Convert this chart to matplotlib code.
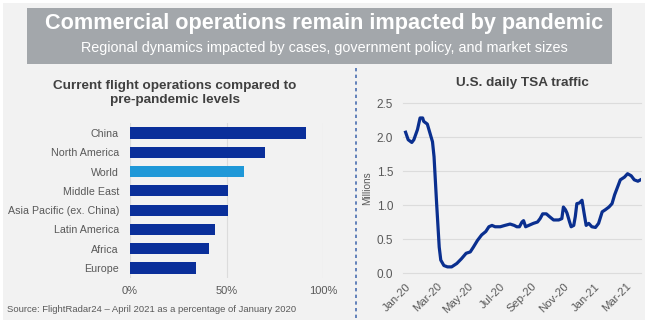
import matplotlib.pyplot as plt
import matplotlib.dates as mdates
import matplotlib.patches as patches
import pandas as pd

plt.rcParams['font.family'] = ['Liberation Sans', 'DejaVu Sans']

## Data - bar chart (share of Jan 2020 flights, in %)
regions = ['China', 'North America', 'World', 'Middle East', 'Asia Pacific (ex. China)',
           'Latin America', 'Africa', 'Europe']
flight_pct = [91, 70, 59, 51, 51, 44, 41, 34]

## Data - TSA daily traffic (millions)
tsa_dates = ['2020-01-01', '2020-01-06', '2020-01-13', '2020-01-17', '2020-01-24', '2020-01-29',
             '2020-02-03', '2020-02-05', '2020-02-12', '2020-02-17', '2020-02-22', '2020-02-25',
             '2020-03-01', '2020-03-06', '2020-03-09', '2020-03-15', '2020-03-22', '2020-03-30',
             '2020-04-09', '2020-04-18', '2020-04-27', '2020-05-05', '2020-05-11', '2020-05-19',
             '2020-05-27', '2020-06-04', '2020-06-10', '2020-06-16', '2020-06-22', '2020-07-02',
             '2020-07-11', '2020-07-21', '2020-07-29', '2020-08-03', '2020-08-08', '2020-08-13',
             '2020-08-16', '2020-08-20', '2020-08-26', '2020-09-04', '2020-09-12', '2020-09-17',
             '2020-09-22', '2020-09-29', '2020-10-05', '2020-10-13', '2020-10-23', '2020-10-29',
             '2020-11-01', '2020-11-05', '2020-11-08', '2020-11-13', '2020-11-16', '2020-11-21',
             '2020-11-24', '2020-11-27', '2020-12-02', '2020-12-07', '2020-12-11', '2020-12-15',
             '2020-12-20', '2020-12-26', '2021-01-02', '2021-01-08', '2021-01-15', '2021-01-21',
             '2021-01-28', '2021-02-03', '2021-02-08', '2021-02-13', '2021-02-19', '2021-02-27',
             '2021-03-05', '2021-03-12', '2021-03-18', '2021-03-25', '2021-03-30']
tsa_millions = [2.07, 1.96, 1.92, 1.96, 2.11, 2.28,
                2.28, 2.23, 2.19, 2.06, 1.93, 1.71,
                1.02, 0.38, 0.19, 0.11, 0.09, 0.09,
                0.14, 0.21, 0.29, 0.31, 0.38, 0.48,
                0.56, 0.61, 0.68, 0.70, 0.68, 0.68,
                0.70, 0.72, 0.70, 0.68, 0.68, 0.75,
                0.77, 0.68, 0.70, 0.73, 0.75, 0.80,
                0.87, 0.87, 0.83, 0.78, 0.78, 0.80,
                0.97, 0.93, 0.88, 0.75, 0.68, 0.70,
                0.83, 1.02, 1.03, 1.07, 0.88, 0.70,
                0.73, 0.68, 0.67, 0.73, 0.90, 0.93,
                0.97, 1.02, 1.15, 1.25, 1.37, 1.41,
                1.46, 1.43, 1.37, 1.35, 1.37]

dark_blue = '#0a2f9a'
light_blue = '#1f98d8'
txt = '#595959'
bg = '#f2f2f2'

fig = plt.figure(figsize=(6.48, 3.23), dpi=100, facecolor='white')
fig.patches.append(patches.Rectangle((3/648, 3/323), 642/648, 317/323, transform=fig.transFigure,
                                     facecolor=bg, edgecolor='none', zorder=-10))

## Banner
fig.patches.append(patches.Rectangle((27/648, 1-64/323), 585/648, 56/323, transform=fig.transFigure,
                                     facecolor='#a3a7ab', edgecolor='none'))
fig.text(0.5, 1-24/323, 'Commercial operations remain impacted by pandemic', ha='center', va='center',
         color='white', fontsize=15.6, fontweight='bold')
fig.text(0.5, 1-48/323, 'Regional dynamics impacted by cases, government policy, and market sizes',
         ha='center', va='center', color='white', fontsize=10.4)

## Divider
fig.add_artist(plt.Line2D([356/648, 356/648], [1-68/323, 1-318/323], transform=fig.transFigure,
                          color='#4a6fb0', lw=1.2, linestyle=(0, (2, 2))))

#%% Bar chart
ax1 = fig.add_axes([130/648, 1-277.7/323, 193/648, 154.3/323])
ax1.set_facecolor(bg)
colors = [light_blue if r == 'World' else dark_blue for r in regions]
ax1.barh(range(len(regions)), flight_pct, height=0.58, color=colors, zorder=3)
ax1.set_ylim(len(regions) - 0.5, -0.5)
ax1.set_xlim(0, 100)
ax1.set_yticks(range(len(regions)))
ax1.set_yticklabels(regions, fontsize=7.7, color=txt)
ax1.set_xticks([0, 50, 100])
ax1.set_xticklabels(['0%', '50%', '100%'], fontsize=8, color=txt)
ax1.tick_params(length=0, axis='y', pad=8)
ax1.tick_params(length=0, axis='x', pad=6)
ax1.grid(axis='x', color='#dcdcdc', lw=0.8, zorder=0)
for s in ax1.spines.values():
    s.set_visible(False)
fig.text(175/648, 1-93/323, 'Current flight operations compared to\npre-pandemic levels', ha='center',
         va='center', fontsize=9.7, fontweight='bold', color='#404040', linespacing=1.3)
fig.text(7/648, 1-309/323, 'Source: FlightRadar24 \u2013 April 2021 as a percentage of January 2020',
         ha='left', va='center', fontsize=6.8, color=txt)

#%% Line chart
d = pd.to_datetime(tsa_dates)
ax2 = fig.add_axes([403/648, 1-273/323, 238/648, 170/323])
ax2.set_facecolor(bg)
ax2.plot(d, tsa_millions, color='#0a2f8f', lw=2.3, zorder=3, solid_joinstyle='round')
ax2.set_xlim(pd.Timestamp('2019-12-27'), pd.Timestamp('2021-03-31'))
ax2.set_ylim(0, 2.5)
ax2.set_yticks([0, 0.5, 1.0, 1.5, 2.0, 2.5])
ax2.set_yticklabels(['0.0', '0.5', '1.0', '1.5', '2.0', '2.5'], fontsize=8.5, color=txt)
ax2.xaxis.set_major_locator(mdates.MonthLocator(bymonth=[1, 3, 5, 7, 9, 11]))
ax2.xaxis.set_major_formatter(mdates.DateFormatter('%b-%y'))
for lab in ax2.get_xticklabels():
    lab.set_rotation(45)
    lab.set_ha('right')
    lab.set_rotation_mode('anchor')
    lab.set_fontsize(8.2)
    lab.set_color(txt)
ax2.tick_params(length=0, axis='y', pad=7)
ax2.tick_params(length=0, axis='x', pad=6)
ax2.grid(axis='y', color='#dcdcdc', lw=0.8, zorder=0)
for s in ax2.spines.values():
    s.set_visible(False)
for line in ax2.get_ygridlines():
    line.set_clip_on(False)
ax2.set_ylabel('Millions', fontsize=7.2, color=txt)
ax2.yaxis.set_label_coords(-0.13, 0.5)
ax2.set_title('U.S. daily TSA traffic', fontsize=9.7, fontweight='bold', color='#404040', pad=12)

fig.savefig('out.png', dpi=100, facecolor=fig.get_facecolor())
